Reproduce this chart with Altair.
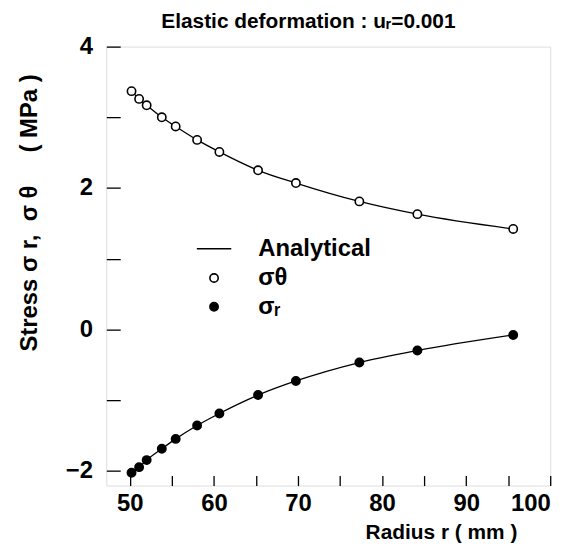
import altair as alt
import pandas as pd

radius = [50.2, 51.1, 52.0, 53.8, 55.45, 58.0, 60.65, 65.25, 69.75, 77.3, 84.2, 95.6]
sigma_theta = [3.37, 3.26, 3.17, 3.00, 2.87, 2.68, 2.51, 2.25, 2.07, 1.81, 1.63, 1.42]
sigma_r = [-2.03, -1.95, -1.85, -1.69, -1.55, -1.36, -1.19, -0.93, -0.73, -0.47, -0.30, -0.08]

labels = ["Analytical", "σθ", "σᵣ"]

df = pd.DataFrame(
    {
        "r": radius + radius,
        "stress": sigma_theta + sigma_r,
        "series": [labels[1]] * len(radius) + [labels[2]] * len(radius),
    }
)

FONT = "Liberation Sans"
FW = "bold"
NB = "\u00a0"

x_enc = alt.X(
    "r:Q",
    scale=alt.Scale(domain=[47.2, 100], nice=False, zero=False),
    axis=alt.Axis(
        values=[50, 55, 60, 65, 70, 75, 80, 85, 90, 95, 100],
        labelExpr="datum.value % 10 == 0 ? datum.label : ''",
        offset=-10,
        tickSize=10,
        tickWidth=1.3,
        tickColor="black",
        domain=False,
        grid=False,
        labelPadding=6,
        labelFontSize=24,
        labelFont=FONT,
        labelFontWeight=FW,
        labelColor="black",
        labelBaseline="top",
        title="Radius" + NB + "r ( mm )",
        titleFont=FONT,
        titleFontSize=21,
        titleFontWeight=FW,
        titleColor="black",
        titleX=337,
        titleY=57,
        titleBaseline="middle",
    ),
)

y_enc = alt.Y(
    "stress:Q",
    scale=alt.Scale(domain=[-2.21, 4], nice=False, zero=False),
    axis=alt.Axis(
        values=[-2, -1, 0, 1, 2, 3, 4],
        labelExpr="datum.value % 2 == 0 ? datum.label : ''",
        offset=-14,
        tickSize=14,
        tickWidth=1.3,
        tickColor="black",
        domain=False,
        grid=False,
        labelPadding=14,
        labelFontSize=24,
        labelFont=FONT,
        labelFontWeight=FW,
        labelColor="black",
        title="Stress" + NB + "σ" + NB + "r," + NB * 2 + "σ" + NB + "θ" + NB * 5 + "(" + NB + "MPa" + NB + ")",
        titleFont=FONT,
        titleFontSize=24,
        titleFontWeight=FW,
        titleColor="black",
        titleAngle=-90,
        titleX=-91,
        titleY=167,
        titleAlign="center",
        titleBaseline="middle",
    ),
)

legend = alt.Legend(
    title=None,
    orient="none",
    legendX=90,
    legendY=185,
    padding=0,
    rowPadding=5,
    labelFont=FONT,
    labelFontSize=24,
    labelFontWeight=FW,
    labelColor="black",
    labelOffset=26,
    symbolStrokeWidth=1.6,
    symbolOpacity=1,
)

line = (
    alt.Chart(df)
    .mark_line(color="black", strokeWidth=1.3, interpolate="monotone")
    .encode(x=x_enc, y=y_enc, detail="series:N")
)

points = (
    alt.Chart(df)
    .mark_point(filled=True, strokeWidth=1.6, opacity=1)
    .encode(
        x=x_enc,
        y=y_enc,
        shape=alt.Shape(
            "series:N",
            scale=alt.Scale(domain=labels, range=["stroke", "circle", "circle"]),
            legend=legend,
        ),
        fill=alt.Fill(
            "series:N",
            scale=alt.Scale(domain=labels, range=["black", "white", "black"]),
            legend=legend,
        ),
        stroke=alt.Stroke(
            "series:N",
            scale=alt.Scale(domain=labels, range=["black", "black", "black"]),
            legend=legend,
        ),
        size=alt.Size(
            "series:N",
            scale=alt.Scale(type="ordinal", domain=labels, range=[1200, 70, 70]),
            legend=legend,
        ),
    )
)

chart = (
    alt.layer(line, points)
    .properties(
        width=447,
        height=442,
        autosize=alt.AutoSizeParams(type="none"),
        padding={"left": 99, "top": 37, "right": 30, "bottom": 60},
        title=alt.TitleParams(
            "Elastic deformation : uᵣ=0.001",
            font=FONT,
            fontSize=21,
            fontWeight=FW,
            color="black",
            anchor="middle",
            frame="group",
            dx=-20,
            offset=3,
        ),
    )
    .configure_view(stroke="black", strokeWidth=2)
    .configure(background="white")
)

chart.save("out.html", embed_options={"renderer": "svg", "actions": False})
